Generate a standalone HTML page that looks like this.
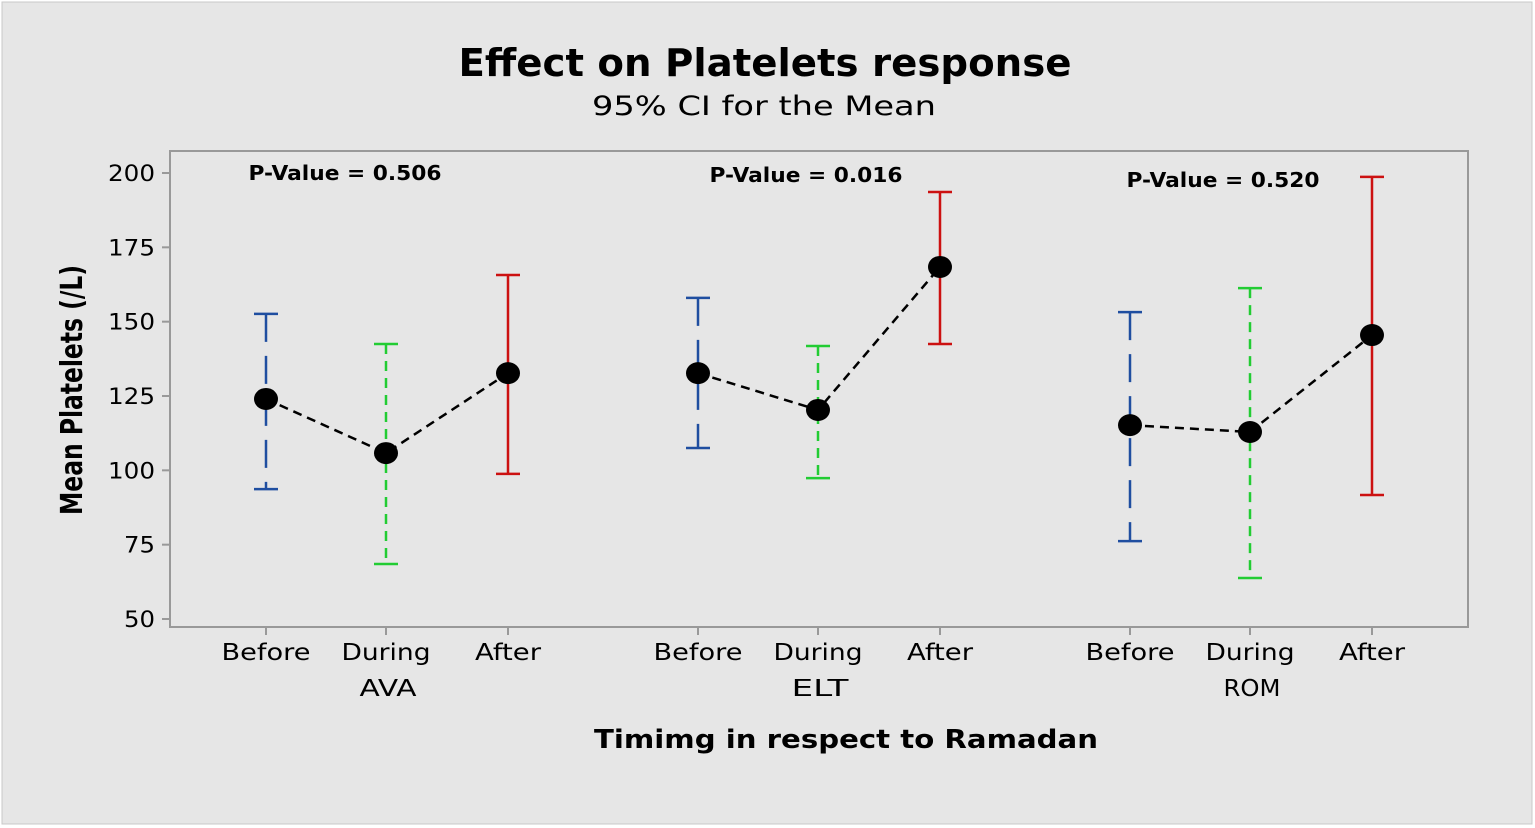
<!DOCTYPE html>
<html><head><meta charset="utf-8"><style>
body{margin:0;background:#fff;}
svg{display:block;font-family:"DejaVu Sans","Liberation Sans",sans-serif;}
</style></head><body>
<svg id="chart" width="1535" height="828">
<rect x="2" y="2" width="1530" height="822" fill="#e6e6e6" stroke="#c8c8c8"/>
<rect x="170" y="151" width="1298" height="476" fill="#e6e6e6" stroke="#999" stroke-width="2"/>
<text x="765" y="76" text-anchor="middle" font-size="38" font-weight="bold" textLength="613" lengthAdjust="spacingAndGlyphs">Effect on Platelets response</text>
<text x="764" y="115" text-anchor="middle" font-size="27" textLength="344" lengthAdjust="spacingAndGlyphs">95% CI for the Mean</text>
<text transform="translate(82,390) rotate(-90)" text-anchor="middle" font-size="30" font-weight="bold" textLength="250" lengthAdjust="spacingAndGlyphs">Mean Platelets (/L)</text>
<text x="846" y="748" text-anchor="middle" font-size="26" font-weight="bold" textLength="504" lengthAdjust="spacingAndGlyphs">Timimg in respect to Ramadan</text>
<g id="marks"></g>
</svg>
<script>
const groups = ["AVA","ELT","ROM"];
const timings = ["Before","During","After"];
const means = [124,105.8,132.7, 132.7,120.3,168.4, 115.2,112.9,145.5];
const upper = [152.6,142.5,165.7, 158,141.8,193.6, 153.2,161.3,198.7];
const lower = [93.7,68.5,98.8, 107.5,97.4,142.5, 76.2,63.8,91.7];
const pValues = ["0.506","0.016","0.520"];
const yTicks = [50,75,100,125,150,175,200];

const NS="http://www.w3.org/2000/svg";
const g=document.getElementById('marks');
const y=v=>173+(200-v)*(619-173)/150;
const x=(gi,i)=>266+120*i+432*gi+(i==2?2:0);
function mk(tag,attrs,parent){const e=document.createElementNS(NS,tag);for(const k in attrs)e.setAttribute(k,attrs[k]);(parent||g).appendChild(e);return e;}
yTicks.forEach(t=>{
  const l=mk('line',{x1:162,x2:170,y1:y(t),y2:y(t),stroke:'#999','stroke-width':2});
  
  
  const tx=mk('text',{x:155,y:y(t)+8,'text-anchor':'end','font-size':22,textLength:t<100?31:47,lengthAdjust:'spacingAndGlyphs'});
  tx.textContent=t;
  
  
});
const styles=[{c:'#1f4ea0',d:'28,14'},{c:'#22cc33',d:'10,7'},{c:'#cc1111',d:'none'}];
const pPos=[[345,180],[806,182],[1223,187]];
const tw={Before:89,During:89,After:66};
groups.forEach((gn,gi)=>{
  const p=mk('text',{x:pPos[gi][0],y:pPos[gi][1],'text-anchor':'middle','font-size':20,'font-weight':'bold',textLength:193,lengthAdjust:'spacingAndGlyphs'});
  p.textContent='P-Value = '+pValues[gi];
  
  
  const gl=mk('text',{x:x(gi,1)+2,y:696,'text-anchor':'middle','font-size':23,textLength:57,lengthAdjust:'spacingAndGlyphs'});
  gl.textContent=gn;
  
  
  let pts=[];
  timings.forEach((tn,i)=>{
    const k=gi*3+i,cx=x(gi,i),s=styles[i];
    const tl=mk('line',{x1:cx,x2:cx,y1:627,y2:635,stroke:'#999','stroke-width':2});
    
    
    const lb=mk('text',{x:cx,y:660,'text-anchor':'middle','font-size':23,textLength:tw[tn],lengthAdjust:'spacingAndGlyphs'});
    lb.textContent=tn;
    
    
    const v=mk('line',{x1:cx,x2:cx,y1:y(upper[k]),y2:y(lower[k]),stroke:s.c,'stroke-width':2.5,'stroke-dasharray':s.d});
    
    
    [upper[k],lower[k]].forEach(val=>{
      const c=mk('line',{x1:cx-12,x2:cx+12,y1:y(val),y2:y(val),stroke:s.c,'stroke-width':2.5});
      
      
    });
    pts.push(cx+','+y(means[k]));
  });
  const pl=mk('polyline',{points:pts.join(' '),fill:'none',stroke:'#000','stroke-width':2.5,'stroke-dasharray':'9,6'});
  
  
  timings.forEach((tn,i)=>{
    const k=gi*3+i;
    const c=mk('ellipse',{cx:x(gi,i),cy:y(means[k]),rx:12,ry:11,fill:'#000'});
    
    
  });
});
</script>
</body></html>
